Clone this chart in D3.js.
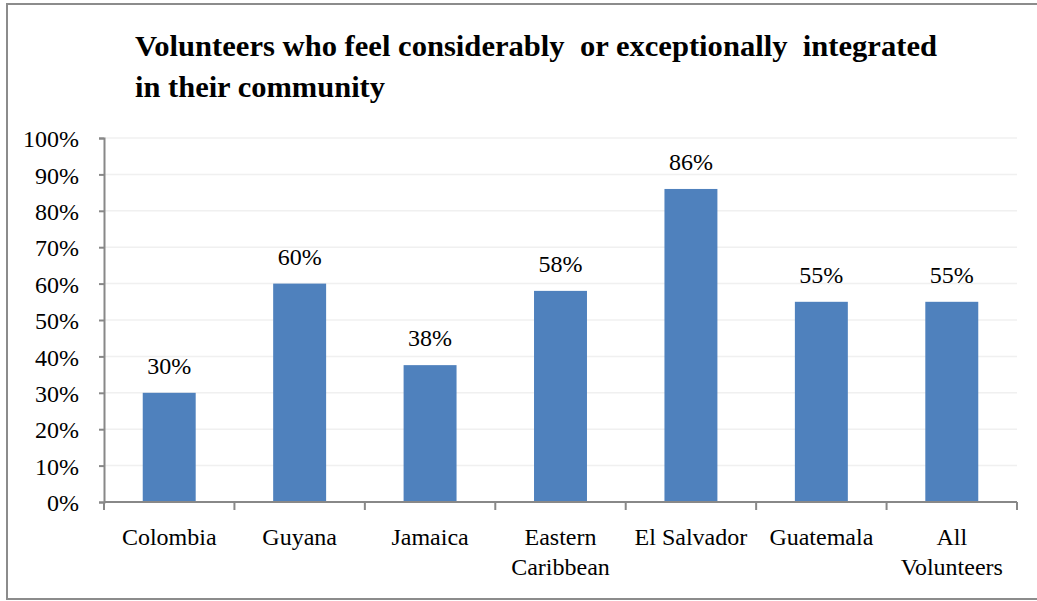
<!DOCTYPE html>
<html>
<head>
<meta charset="utf-8">
<script src="https://cdn.jsdelivr.net/npm/d3@7"></script>
</head>
<body style="margin:0;padding:0;background:#fff">
<svg id="chart" width="1037" height="601" style="display:block"></svg>
<script>
const categories = [["Colombia"], ["Guyana"], ["Jamaica"], ["Eastern", "Caribbean"], ["El Salvador"], ["Guatemala"], ["All", "Volunteers"]];
const values = [0.30, 0.60, 0.376, 0.58, 0.86, 0.55, 0.55];
const yTicks = [0, 0.1, 0.2, 0.3, 0.4, 0.5, 0.6, 0.7, 0.8, 0.9, 1.0];
const titleLines = ["Volunteers who feel considerably  or exceptionally  integrated", "in their community"];

const FONT = "'Liberation Serif', Tinos, 'Times New Roman', serif";
const setFont = sel => sel.style("font-family", FONT, "important");
const svg = d3.select("#chart");
const W = 1037, H = 601;
const margin = { left: 104, right: 20, top: 138, bottom: 99 };
const plotW = W - margin.left - margin.right;
const plotH = H - margin.top - margin.bottom;

// outer frame
svg.append("rect")
  .attr("x", 7).attr("y", 4)
  .attr("width", W + 10).attr("height", 595)
  .attr("fill", "none").attr("stroke", "#8c8c8c").attr("stroke-width", 2);

// title
svg.append("g").selectAll("text").data(titleLines).join("text")
  .attr("x", 135)
  .attr("y", (d, i) => 56 + i * 41)
  .attr("font-size", 30)
  .attr("font-weight", "bold")
  .attr("textLength", (d, i) => i === 0 ? 802 : 250)
  .attr("lengthAdjust", "spacingAndGlyphs")
  .attr("xml:space", "preserve")
  .call(setFont)
  .text(d => d);

const g = svg.append("g").attr("transform", `translate(${margin.left},${margin.top})`);

const x = d3.scaleBand().domain(d3.range(categories.length)).range([0, plotW]).paddingInner(0.594).paddingOuter(0.297);
const xb = d3.scaleBand().domain(d3.range(categories.length)).range([0, plotW]).padding(0);
const y = d3.scaleLinear().domain([0, 1]).range([plotH, 0]);

// gridlines
g.append("g").selectAll("line").data(yTicks.filter(t => t > 0)).join("line")
  .attr("x1", 0).attr("x2", plotW)
  .attr("y1", d => y(d)).attr("y2", d => y(d))
  .attr("stroke", "#f0f0f0").attr("stroke-width", 1.5);

// bars
g.append("g").selectAll("rect").data(values).join("rect")
  .attr("x", (d, i) => x(i))
  .attr("width", x.bandwidth())
  .attr("y", d => y(d))
  .attr("height", d => plotH - y(d))
  .attr("fill", "#4f81bd");

// value labels
g.append("g").selectAll("text").data(values).join("text")
  .attr("x", (d, i) => x(i) + x.bandwidth() / 2)
  .attr("y", d => y(d) - 19)
  .attr("text-anchor", "middle")
  .attr("font-size", 24)
  .call(setFont)
  .text(d => d3.format(".0%")(d));

// y axis
const yAxis = g.append("g")
  .call(d3.axisLeft(y).tickValues(yTicks).tickFormat(d3.format(".0%")).tickSize(5).tickPadding(20));
yAxis.attr("font-size", 24).call(setFont);
yAxis.select(".domain").attr("stroke", "#888").attr("stroke-width", 2);
yAxis.selectAll(".tick line").attr("stroke", "#888").attr("stroke-width", 2);
yAxis.selectAll(".tick text")
  .call(setFont)
  .attr("font-size", 24).attr("fill", "#000").attr("dy", "0.36em");

// x axis
const xAxisG = g.append("g").attr("transform", `translate(0,${plotH})`);
xAxisG.append("line").attr("x1", 0).attr("x2", plotW).attr("y1", 0).attr("y2", 0)
  .attr("stroke", "#888").attr("stroke-width", 2);
const bounds = d3.range(categories.length + 1).map(i => i < categories.length ? xb(i) : plotW);
xAxisG.selectAll("line.tk").data(bounds).join("line").attr("class", "tk")
  .attr("x1", d => d).attr("x2", d => d).attr("y1", 0).attr("y2", 8)
  .attr("stroke", "#888").attr("stroke-width", 2);
const lbl = xAxisG.selectAll("text.cat").data(categories).join("text").attr("class", "cat")
  .attr("text-anchor", "middle")
  .attr("font-size", 24)
  .call(setFont)
  .attr("transform", (d, i) => `translate(${xb(i) + xb.bandwidth() / 2},43)`);
lbl.selectAll("tspan").data(d => d).join("tspan")
  .attr("x", 0).attr("y", (d, i) => i * 30)
  .call(setFont)
  .text(d => d);
</script>
</body>
</html>
